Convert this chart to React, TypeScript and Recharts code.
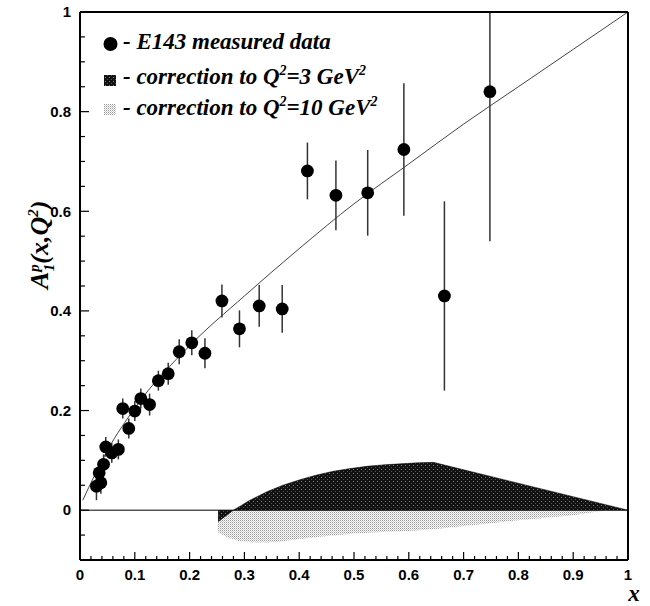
import {
  ComposedChart,
  XAxis,
  YAxis,
  Line,
  Area,
  Scatter,
  ErrorBar,
  ReferenceLine,
} from 'recharts'

// E143 proton asymmetry A1 measurements
const measX = [
  0.030, 0.038, 0.035, 0.043, 0.047, 0.058, 0.070, 0.078, 0.089, 0.100, 0.111, 0.127, 0.143,
  0.161, 0.181, 0.204, 0.228, 0.259, 0.291, 0.327, 0.369, 0.415, 0.467, 0.525, 0.591, 0.665,
  0.748,
]
const measY = [
  0.048, 0.055, 0.075, 0.092, 0.127, 0.115, 0.122, 0.204, 0.164, 0.199, 0.224, 0.212, 0.260,
  0.274, 0.318, 0.336, 0.315, 0.420, 0.364, 0.410, 0.404, 0.681, 0.632, 0.637, 0.724, 0.430,
  0.840,
]
const measErr = [
  0.028, 0.022, 0.020, 0.020, 0.020, 0.020, 0.020, 0.020, 0.020, 0.020, 0.020, 0.022, 0.020,
  0.022, 0.025, 0.025, 0.030, 0.033, 0.037, 0.042, 0.048, 0.057, 0.070, 0.086, 0.133, 0.190,
  0.300,
]

// fitted curve
const fitX = [0.005, 0.05, 0.1, 0.2, 0.3, 0.4, 0.5, 0.6, 0.7, 0.8, 0.9, 1.0]
const fitY = [0.02, 0.12, 0.205, 0.33, 0.43, 0.525, 0.615, 0.695, 0.775, 0.85, 0.925, 1.0]

// correction to Q^2 = 3 GeV^2
const q3X = [0.252, 0.28, 0.31, 0.341, 0.37, 0.401, 0.43, 0.462, 0.49, 0.523, 0.555, 0.584, 0.615, 0.645, 1.0]
const q3Y = [-0.023, 0, 0.02, 0.037, 0.05, 0.061, 0.07, 0.078, 0.083, 0.088, 0.091, 0.093, 0.095, 0.096, 0]

// correction to Q^2 = 10 GeV^2
const q10X = [0.252, 0.27, 0.29, 0.32, 0.36, 0.4, 0.45, 0.5, 0.55, 0.6, 0.65, 0.7, 0.75, 0.8, 0.85, 0.9, 0.96]
const q10Y = [-0.045, -0.055, -0.062, -0.065, -0.064, -0.058, -0.052, -0.047, -0.044, -0.042, -0.038, -0.032, -0.026, -0.02, -0.015, -0.01, 0]

const xMajor = [0, 0.1, 0.2, 0.3, 0.4, 0.5, 0.6, 0.7, 0.8, 0.9, 1]
const yMajor = [0, 0.2, 0.4, 0.6, 0.8, 1]

const X_MIN = 0
const X_MAX = 1
const Y_MIN = -0.1
const Y_MAX = 1

// error bars are cut at the top of the frame
const points = measX.map((x, i) => ({
  x,
  y: measY[i],
  err: [measErr[i], Math.min(measErr[i], Y_MAX - measY[i])],
}))
const fit = fitX.map((x, i) => ({ x, fit: fitY[i] }))
const q3 = q3X.map((x, i) => ({ x, q3: q3Y[i] }))
const q10 = q10X.map((x, i) => ({ x, q10: q10Y[i] }))

// inward tick marks along the bottom and left edges (every 0.02 in x, 0.05 in y)
const xTickMarks: { v: number; major: boolean }[] = []
for (let i = 1; i < 50; i++) {
  const v = Math.round(i * 20) / 1000
  xTickMarks.push({ v, major: i % 5 === 0 })
}
const yTickMarks: { v: number; major: boolean }[] = []
for (let i = -1; i < 20; i++) {
  const v = Math.round(i * 50) / 1000
  yTickMarks.push({ v, major: i % 4 === 0 })
}
// tick lengths in data units (about 8/4 px vertical, 9/5 px horizontal)
const X_TICK_MAJOR = 0.016
const X_TICK_MINOR = 0.008
const Y_TICK_MAJOR = 0.0165
const Y_TICK_MINOR = 0.009

const SANS = '"Liberation Sans", Arial, sans-serif'
const SERIF = '"Liberation Serif", "Times New Roman", serif'

const tickFont = { fontFamily: SANS, fontWeight: 'bold', fontSize: 15, fill: '#000' }
const fmt = (v: number) => String(Math.round(v * 10) / 10)

function Dot(props: any) {
  const { cx, cy } = props
  return <circle cx={cx} cy={cy} r={6.4} fill="#000" />
}

function Patterns({ prefix }: { prefix: string }) {
  return (
    <defs>
      <pattern id={`${prefix}dark`} width={4} height={4} patternUnits="userSpaceOnUse">
        <rect width={4} height={4} fill="#111" />
        <rect x={1} y={1} width={1} height={1} fill="#888" />
        <rect x={3} y={3} width={1} height={1} fill="#555" />
      </pattern>
      <pattern id={`${prefix}light`} width={2} height={2} patternUnits="userSpaceOnUse">
        <rect width={2} height={2} fill="#fff" />
        <rect x={0} y={0} width={1} height={1} fill="#999" />
        <rect x={1} y={1} width={1} height={1} fill="#ccc" />
      </pattern>
    </defs>
  )
}

const serifText = {
  fontFamily: SERIF,
  fontWeight: 'bold' as const,
  fontStyle: 'italic' as const,
  fontSize: 23,
  fill: '#000',
}

const frame = { stroke: '#000', strokeWidth: 2 }
const THIN = 0.01

export default function App() {
  return (
    <div style={{ position: 'absolute', left: 0, top: 0, width: 650, height: 606, background: '#fff' }}>
      <ComposedChart
        width={650}
        height={606}
        margin={{ top: 12, right: 22, bottom: 46, left: 80 }}
      >
        <Patterns prefix="c-" />
        <XAxis
          dataKey="x"
          type="number"
          domain={[X_MIN, X_MAX]}
          ticks={xMajor}
          interval={0}
          height={THIN}
          axisLine={frame}
          tickLine={false}
          tickSize={0}
          tickMargin={9}
          tick={tickFont}
          tickFormatter={fmt}
        />
        <XAxis
          xAxisId="top"
          orientation="top"
          type="number"
          domain={[X_MIN, X_MAX]}
          height={THIN}
          axisLine={frame}
          tick={false}
          tickLine={false}
        />
        <YAxis
          type="number"
          domain={[Y_MIN, Y_MAX]}
          allowDataOverflow
          ticks={yMajor}
          interval={0}
          width={THIN}
          axisLine={frame}
          tickLine={false}
          tickSize={0}
          tickMargin={9}
          tick={tickFont}
          tickFormatter={fmt}
        />
        <YAxis
          yAxisId="right"
          orientation="right"
          type="number"
          domain={[Y_MIN, Y_MAX]}
          width={THIN}
          axisLine={frame}
          tick={false}
          tickLine={false}
        />
        {xTickMarks.map((t) => (
          <ReferenceLine
            key={`xt${t.v}`}
            ifOverflow="visible"
            segment={[
              { x: t.v, y: Y_MIN },
              { x: t.v, y: Y_MIN + (t.major ? X_TICK_MAJOR : X_TICK_MINOR) },
            ]}
            stroke="#000"
            strokeWidth={1.2}
          />
        ))}
        {yTickMarks.map((t) => (
          <ReferenceLine
            key={`yt${t.v}`}
            ifOverflow="visible"
            segment={[
              { x: X_MIN, y: t.v },
              { x: X_MIN + (t.major ? Y_TICK_MAJOR : Y_TICK_MINOR), y: t.v },
            ]}
            stroke="#000"
            strokeWidth={1.2}
          />
        ))}
        <Area
          data={q10}
          dataKey="q10"
          type="linear"
          baseValue={0}
          fill="url(#c-light)"
          fillOpacity={1}
          stroke="none"
          isAnimationActive={false}
        />
        <Area
          data={q3}
          dataKey="q3"
          type="linear"
          baseValue={0}
          fill="url(#c-dark)"
          fillOpacity={1}
          stroke="#000"
          strokeWidth={0.5}
          isAnimationActive={false}
        />
        <ReferenceLine y={0} stroke="#000" strokeWidth={1} />
        <Line
          data={fit}
          dataKey="fit"
          type="monotone"
          stroke="#444"
          strokeWidth={1}
          dot={false}
          isAnimationActive={false}
        />
        <Scatter data={points} dataKey="y" shape={<Dot />} isAnimationActive={false}>
          <ErrorBar dataKey="err" direction="y" width={0} stroke="#333" strokeWidth={1.5} />
        </Scatter>
      </ComposedChart>

      <svg
        width={650}
        height={606}
        style={{ position: 'absolute', left: 0, top: 0, pointerEvents: 'none' }}
      >
        <Patterns prefix="l-" />
        {/* legend */}
        <circle cx={110.5} cy={44} r={7} fill="#000" />
        <text x={123} y={49} {...serifText}>- E143 measured data</text>
        <rect x={104} y={75} width={12} height={11} fill="url(#l-dark)" />
        <text x={123} y={84} {...serifText}>
          - correction to Q<tspan dy={-9} fontSize={14}>2</tspan>
          <tspan dy={9}>=3 GeV</tspan>
          <tspan dy={-9} fontSize={14}>2</tspan>
        </text>
        <rect x={104} y={104} width={12} height={11} fill="url(#l-light)" />
        <text x={123} y={115} {...serifText}>
          - correction to Q<tspan dy={-9} fontSize={14}>2</tspan>
          <tspan dy={9}>=10 GeV</tspan>
          <tspan dy={-9} fontSize={14}>2</tspan>
        </text>

        {/* axis titles */}
        <text transform="translate(48,289) rotate(-90)" {...serifText} fontSize={26}>
          A<tspan dy={-9} fontSize={15}>p</tspan>
          <tspan dx={-7} dy={15} fontSize={15}>1</tspan>
          <tspan dy={-6}>(x,Q</tspan>
          <tspan dy={-10} fontSize={15}>2</tspan>
          <tspan dy={10}>)</tspan>
        </text>
        <text x={634} y={601} textAnchor="middle" {...serifText} fontSize={23}>
          x
        </text>
      </svg>
    </div>
  )
}
